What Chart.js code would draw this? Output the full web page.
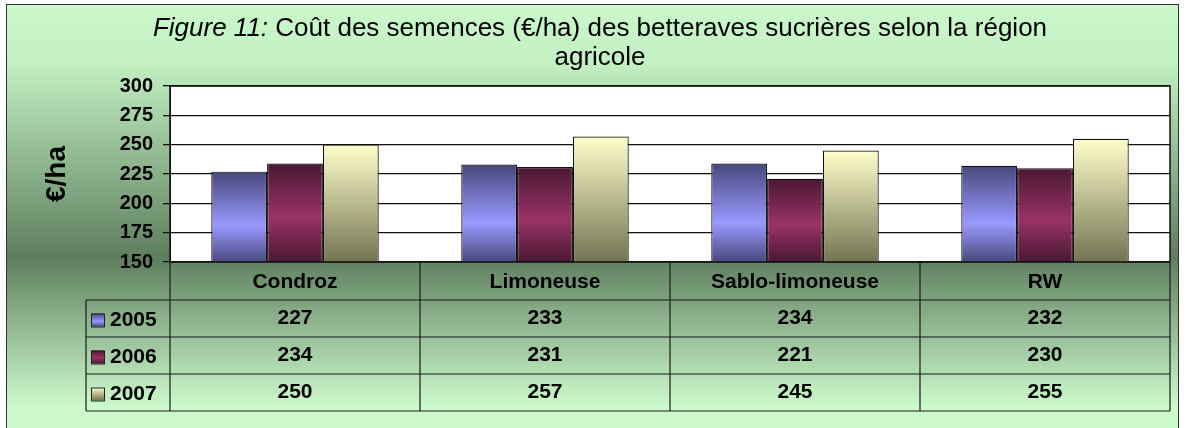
<!DOCTYPE html>
<html>
<head>
<meta charset="utf-8">
<script src="https://cdn.jsdelivr.net/npm/chart.js@4"></script>
<style>
  html, body { margin: 0; padding: 0; background: #ffffff; }
  #wrap { width: 1186px; height: 428px; position: relative; }
</style>
</head>
<body>
<div id="wrap"><canvas id="chart"></canvas></div>
<script>
// data
const regions = ['Condroz', 'Limoneuse', 'Sablo-limoneuse', 'RW'];
const years = ['2005', '2006', '2007'];
const cost2005 = [227, 233, 234, 232];
const cost2006 = [234, 231, 221, 230];
const cost2007 = [250, 257, 245, 255];
const yTicks = [150, 175, 200, 225, 250, 275, 300];

const FONT = '"Liberation Sans", Arial, sans-serif';

// gradient stops per series (top -> bottom)
const barStops = [
    [[0, '#48487c'], [0.6, '#9999ff'], [1, '#48487c']],
    [[0, '#4a1833'], [0.55, '#993366'], [1, '#4a1833']],
    [[0, '#ffffcc'], [1, '#737352']]
];
const flatColors = ['#8080e0', '#882d5c', '#c8c8a0'];

function makeGrad(ctx, top, bottom, stops) {
    const g = ctx.createLinearGradient(0, top, 0, bottom);
    stops.forEach(s => g.addColorStop(s[0], s[1]));
    return g;
}

function barFill(si) {
    return (c) => {
        const chart = c.chart;
        const y = chart.scales && chart.scales.y;
        if (!y || typeof c.raw !== 'number') return flatColors[si];
        const top = y.getPixelForValue(c.raw);
        const base = y.getPixelForValue(yTicks[0]);
        if (!isFinite(top) || !isFinite(base) || top === base) return flatColors[si];
        return makeGrad(chart.ctx, top, base, barStops[si]);
    };
}

// background, plot area, title, data table
const frame = {
    id: 'frame',
    beforeDraw(chart) {
        const { ctx, width, height, chartArea: a } = chart;
        ctx.save();
        const bg = ctx.createLinearGradient(0, 0, 0, height);
        bg.addColorStop(0, '#ccf9cc');
        bg.addColorStop(0.15, '#c2f0c2');
        bg.addColorStop(0.6, '#5e7e5e');
        bg.addColorStop(0.95, '#ccfacc');
        bg.addColorStop(1, '#ccfacc');
        ctx.fillStyle = bg;
        ctx.fillRect(0, 0, width, height);
        ctx.fillStyle = '#ffffff';
        ctx.fillRect(0, 0, width, 4);
        ctx.fillRect(0, 0, 6, height);
        ctx.fillRect(1179, 0, width - 1179, height);
        ctx.strokeStyle = '#333333';
        ctx.lineWidth = 1;
        ctx.strokeRect(6.5, 4.5, 1172, height + 10);

        ctx.fillStyle = '#ffffff';
        ctx.fillRect(a.left, a.top, a.right - a.left, a.bottom - a.top);

        // title
        ctx.fillStyle = '#000000';
        ctx.textBaseline = 'middle';
        const p1 = 'Figure 11:';
        const p2 = ' Coût des semences (€/ha) des betteraves sucrières selon la région';
        ctx.font = 'italic 26px ' + FONT;
        const w1 = ctx.measureText(p1).width;
        ctx.font = '26px ' + FONT;
        const w2 = ctx.measureText(p2).width;
        const cx = 600;
        const x0 = cx - (w1 + w2) / 2;
        ctx.textAlign = 'left';
        ctx.font = 'italic 26px ' + FONT;
        ctx.fillText(p1, x0, 29);
        ctx.font = '26px ' + FONT;
        ctx.fillText(p2, x0 + w1, 29);
        ctx.textAlign = 'center';
        ctx.fillText('agricole', cx, 58);
        ctx.restore();
    },
    afterDraw(chart) {
        const { ctx, chartArea: a } = chart;
        const x = chart.scales.x;
        const rows = [cost2005, cost2006, cost2007];
        const colW = (a.right - a.left) / regions.length;
        const rowTop = a.bottom;
        const headH = 38;
        const rowH = 37;
        const leftX = 86;
        ctx.save();
        // plot border
        ctx.strokeStyle = '#111111';
        ctx.lineWidth = 1.5;
        ctx.strokeRect(a.left, a.top, a.right - a.left, a.bottom - a.top);

        // table lines
        ctx.strokeStyle = '#1a1a1a';
        ctx.lineWidth = 1.2;
        const bottom = rowTop + headH + rowH * rows.length;
        ctx.beginPath();
        for (let r = 0; r <= rows.length; r++) {
            const yy = rowTop + headH + r * rowH;
            ctx.moveTo(leftX, yy);
            ctx.lineTo(a.right, yy);
        }
        ctx.moveTo(leftX, rowTop + headH);
        ctx.lineTo(leftX, bottom);
        for (let i = 0; i <= regions.length; i++) {
            const xx = a.left + i * colW;
            ctx.moveTo(xx, rowTop);
            ctx.lineTo(xx, bottom);
        }
        ctx.stroke();

        // header + values
        ctx.fillStyle = '#000000';
        ctx.textAlign = 'center';
        ctx.textBaseline = 'middle';
        ctx.font = 'bold 21px ' + FONT;
        regions.forEach((name, i) => {
            const cx = x.getPixelForValue(i);
            ctx.fillText(name, cx, rowTop + headH / 2 + 1);
            rows.forEach((vals, r) => {
                ctx.fillText(String(vals[i]), cx, rowTop + headH + r * rowH + rowH / 2);
            });
        });

        // legend keys
        ctx.textAlign = 'left';
        years.forEach((yr, r) => {
            const cy = rowTop + headH + r * rowH + rowH / 2;
            const sx = 91, sy = cy - 5, s = 13;
            ctx.fillStyle = makeGrad(ctx, sy, sy + s, barStops[r]);
            ctx.fillRect(sx, sy, s, s);
            ctx.strokeStyle = '#222222';
            ctx.lineWidth = 1;
            ctx.strokeRect(sx + 0.5, sy + 0.5, s, s);
            ctx.fillStyle = '#000000';
            ctx.fillText(yr, 110, cy + 2);
        });
        ctx.restore();
    }
};

new Chart(document.getElementById('chart'), {
    type: 'bar',
    data: {
        labels: regions,
        datasets: [
            { label: years[0], data: cost2005, backgroundColor: barFill(0) },
            { label: years[1], data: cost2006, backgroundColor: barFill(1) },
            { label: years[2], data: cost2007, backgroundColor: barFill(2) }
        ]
    },
    options: {
        responsive: true,
        maintainAspectRatio: false,
        animation: false,
        devicePixelRatio: 1,
        layout: { padding: { left: 0, right: 16, top: 86, bottom: 166 } },
        datasets: {
            bar: {
                categoryPercentage: 0.67,
                barPercentage: 1,
                borderColor: '#111111',
                borderWidth: 1.2,
                borderSkipped: false
            }
        },
        plugins: {
            legend: { display: false },
            title: { display: false },
            tooltip: { enabled: false }
        },
        scales: {
            x: { display: false },
            y: {
                min: yTicks[0],
                max: yTicks[yTicks.length - 1],
                afterBuildTicks: (s) => { s.ticks = yTicks.map(v => ({ value: v })); },
                afterFit: (s) => { s.width = 170; },
                ticks: {
                    color: '#000000',
                    padding: 10,
                    font: { family: FONT, size: 20, weight: 'bold' }
                },
                grid: { color: '#111111', lineWidth: 1.3, tickLength: 7, drawOnChartArea: true },
                border: { display: true, color: '#111111' },
                title: {
                    display: true,
                    text: '€/ha',
                    color: '#000000',
                    padding: { top: 40, bottom: 0 },
                    font: { family: FONT, size: 28, weight: 'bold', lineHeight: 1.2 }
                }
            }
        }
    },
    plugins: [frame]
});
</script>
</body>
</html>
